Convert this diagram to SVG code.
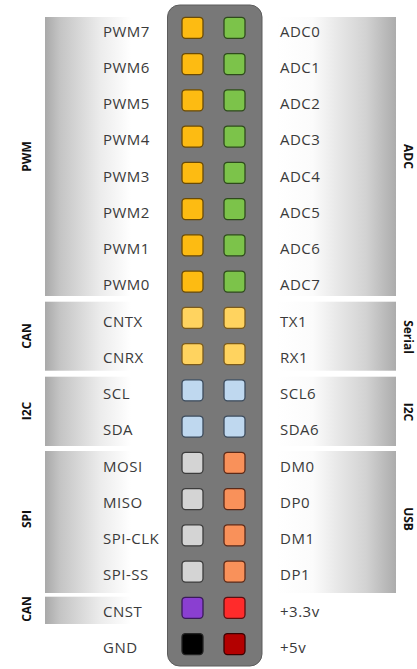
<svg xmlns="http://www.w3.org/2000/svg" width="417" height="669" viewBox="0 0 417 669">
<defs>
<linearGradient id="gl" x1="0" y1="0" x2="1" y2="0">
<stop offset="0" stop-color="#a9a9a9"/>
<stop offset="0.12" stop-color="#c4c4c4"/>
<stop offset="0.45" stop-color="#ececec"/>
<stop offset="0.7" stop-color="#ffffff"/>
<stop offset="1" stop-color="#ffffff"/>
</linearGradient>
<linearGradient id="gr" x1="0" y1="0" x2="1" y2="0">
<stop offset="0" stop-color="#ffffff"/>
<stop offset="0.3" stop-color="#fbfbfb"/>
<stop offset="0.75" stop-color="#d2d2d2"/>
<stop offset="1" stop-color="#acacac"/>
</linearGradient>
</defs>
<style>
.pl{fill:url(#gl)}
.pr{fill:url(#gr)}
.lb{font-family:"Open Sans","Liberation Sans",sans-serif;font-size:15px;fill:#3a3a3a;letter-spacing:0.5px}
.cat{font-family:"Open Sans","Liberation Sans",sans-serif;font-size:12px;font-weight:700;fill:#111;text-anchor:middle}
.pin{stroke-width:1.3}
.pwm{fill:#fdbb12;stroke:#6a4a05}
.adc{fill:#7cc34a;stroke:#2e4a1c}
.can{fill:#ffd35f;stroke:#7a5a1c}
.i2c{fill:#bfd8ef;stroke:#3c4b5c}
.spi{fill:#d4d4d4;stroke:#3c3c3c}
.usb{fill:#f9915a;stroke:#5c2a18}
.cnst{fill:#8a3fd1;stroke:#3a1a5a}
.v33{fill:#ff2b2b;stroke:#5a1010}
.gnd{fill:#000;stroke:#222}
.v5{fill:#b30000;stroke:#3a0000}
</style>
<g id="panels">
<rect class="pl" x="45" y="17" width="123" height="279"/>
<rect class="pl" x="45" y="301.7" width="123" height="69"/>
<rect class="pl" x="45" y="376.7" width="123" height="69.3"/>
<rect class="pl" x="45" y="451" width="123" height="142"/>
<rect class="pl" x="45" y="596.7" width="123" height="27.3"/>
<rect class="pr" x="277" y="17" width="119" height="279"/>
<rect class="pr" x="277" y="301.7" width="119" height="69"/>
<rect class="pr" x="277" y="376.7" width="119" height="69.3"/>
<rect class="pr" x="277" y="451" width="119" height="142"/>
</g>
<g id="categories">
<text class="cat" transform="translate(27,156.5) rotate(-90)" y="4.3">PWM</text>
<text class="cat" transform="translate(27,336) rotate(-90)" y="4.3">CAN</text>
<text class="cat" transform="translate(27,411) rotate(-90)" y="4.3">I2C</text>
<text class="cat" transform="translate(27,519) rotate(-90)" y="4.3">SPI</text>
<text class="cat" transform="translate(27,609) rotate(-90)" y="4.3">CAN</text>
<text class="cat" transform="translate(408,156.5) rotate(90)" y="4.3">ADC</text>
<text class="cat" transform="translate(408,337) rotate(90)" y="4.3">Serial</text>
<text class="cat" transform="translate(408,412) rotate(90)" y="4.3">I2C</text>
<text class="cat" transform="translate(408,519) rotate(90)" y="4.3">USB</text>
</g>
<g id="board">
<rect x="167.5" y="5" width="94.5" height="661" rx="12" fill="#787878" stroke="#5c5c5c" stroke-width="1"/>
</g>
<g id="row0"><rect class="pin pwm" x="182" y="17.3" width="21" height="21" rx="3.5"/><rect class="pin adc" x="224" y="17.3" width="21" height="21" rx="3.5"/><text class="lb" x="103" y="36.5">PWM7</text><text class="lb" x="280" y="36.5">ADC0</text></g>
<g id="row1"><rect class="pin pwm" x="182" y="53.55" width="21" height="21" rx="3.5"/><rect class="pin adc" x="224" y="53.55" width="21" height="21" rx="3.5"/><text class="lb" x="103" y="72.75">PWM6</text><text class="lb" x="280" y="72.75">ADC1</text></g>
<g id="row2"><rect class="pin pwm" x="182" y="89.8" width="21" height="21" rx="3.5"/><rect class="pin adc" x="224" y="89.8" width="21" height="21" rx="3.5"/><text class="lb" x="103" y="109">PWM5</text><text class="lb" x="280" y="109">ADC2</text></g>
<g id="row3"><rect class="pin pwm" x="182" y="126.05" width="21" height="21" rx="3.5"/><rect class="pin adc" x="224" y="126.05" width="21" height="21" rx="3.5"/><text class="lb" x="103" y="145.25">PWM4</text><text class="lb" x="280" y="145.25">ADC3</text></g>
<g id="row4"><rect class="pin pwm" x="182" y="162.3" width="21" height="21" rx="3.5"/><rect class="pin adc" x="224" y="162.3" width="21" height="21" rx="3.5"/><text class="lb" x="103" y="181.5">PWM3</text><text class="lb" x="280" y="181.5">ADC4</text></g>
<g id="row5"><rect class="pin pwm" x="182" y="198.55" width="21" height="21" rx="3.5"/><rect class="pin adc" x="224" y="198.55" width="21" height="21" rx="3.5"/><text class="lb" x="103" y="217.75">PWM2</text><text class="lb" x="280" y="217.75">ADC5</text></g>
<g id="row6"><rect class="pin pwm" x="182" y="234.8" width="21" height="21" rx="3.5"/><rect class="pin adc" x="224" y="234.8" width="21" height="21" rx="3.5"/><text class="lb" x="103" y="254">PWM1</text><text class="lb" x="280" y="254">ADC6</text></g>
<g id="row7"><rect class="pin pwm" x="182" y="271.05" width="21" height="21" rx="3.5"/><rect class="pin adc" x="224" y="271.05" width="21" height="21" rx="3.5"/><text class="lb" x="103" y="290.25">PWM0</text><text class="lb" x="280" y="290.25">ADC7</text></g>
<g id="row8"><rect class="pin can" x="182" y="307.3" width="21" height="21" rx="3.5"/><rect class="pin can" x="224" y="307.3" width="21" height="21" rx="3.5"/><text class="lb" x="103" y="326.5">CNTX</text><text class="lb" x="280" y="326.5">TX1</text></g>
<g id="row9"><rect class="pin can" x="182" y="343.55" width="21" height="21" rx="3.5"/><rect class="pin can" x="224" y="343.55" width="21" height="21" rx="3.5"/><text class="lb" x="103" y="362.75">CNRX</text><text class="lb" x="280" y="362.75">RX1</text></g>
<g id="row10"><rect class="pin i2c" x="182" y="379.8" width="21" height="21" rx="3.5"/><rect class="pin i2c" x="224" y="379.8" width="21" height="21" rx="3.5"/><text class="lb" x="103" y="399">SCL</text><text class="lb" x="280" y="399">SCL6</text></g>
<g id="row11"><rect class="pin i2c" x="182" y="416.05" width="21" height="21" rx="3.5"/><rect class="pin i2c" x="224" y="416.05" width="21" height="21" rx="3.5"/><text class="lb" x="103" y="435.25">SDA</text><text class="lb" x="280" y="435.25">SDA6</text></g>
<g id="row12"><rect class="pin spi" x="182" y="452.3" width="21" height="21" rx="3.5"/><rect class="pin usb" x="224" y="452.3" width="21" height="21" rx="3.5"/><text class="lb" x="103" y="471.5">MOSI</text><text class="lb" x="280" y="471.5">DM0</text></g>
<g id="row13"><rect class="pin spi" x="182" y="488.55" width="21" height="21" rx="3.5"/><rect class="pin usb" x="224" y="488.55" width="21" height="21" rx="3.5"/><text class="lb" x="103" y="507.75">MISO</text><text class="lb" x="280" y="507.75">DP0</text></g>
<g id="row14"><rect class="pin spi" x="182" y="524.8" width="21" height="21" rx="3.5"/><rect class="pin usb" x="224" y="524.8" width="21" height="21" rx="3.5"/><text class="lb" x="103" y="544">SPI-CLK</text><text class="lb" x="280" y="544">DM1</text></g>
<g id="row15"><rect class="pin spi" x="182" y="561.05" width="21" height="21" rx="3.5"/><rect class="pin usb" x="224" y="561.05" width="21" height="21" rx="3.5"/><text class="lb" x="103" y="580.25">SPI-SS</text><text class="lb" x="280" y="580.25">DP1</text></g>
<g id="row16"><rect class="pin cnst" x="182" y="597.3" width="21" height="21" rx="3.5"/><rect class="pin v33" x="224" y="597.3" width="21" height="21" rx="3.5"/><text class="lb" x="103" y="616.5" fill="#555">CNST</text><text class="lb" x="280" y="616.5">+3.3v</text></g>
<g id="row17"><rect class="pin gnd" x="182" y="633.55" width="21" height="21" rx="3.5"/><rect class="pin v5" x="224" y="633.55" width="21" height="21" rx="3.5"/><text class="lb" x="103" y="652.75">GND</text><text class="lb" x="280" y="652.75">+5v</text></g>
</svg>
